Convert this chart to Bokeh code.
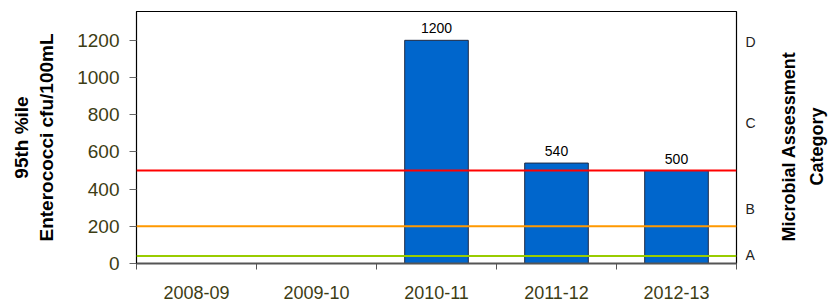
import math
from bokeh.plotting import figure
from bokeh.layouts import row
from bokeh.models import (ColumnDataSource, FixedTicker, LinearAxis, Range1d, Span)
from bokeh.core.properties import value
from bokeh.embed import file_html
from bokeh.resources import INLINE

# ---- data ----
categories = ["2008-09", "2009-10", "2010-11", "2011-12", "2012-13"]
enterococci_95th = [float("nan"), float("nan"), 1200, 540, 500]
bar_labels = ["", "", "1200", "540", "500"]
thresholds = [40, 200, 500]
threshold_colors = ["#99CC00", "#FF9900", "#FF0000"]
y_ticks = [0, 200, 400, 600, 800, 1000, 1200]
category_letters = ["A", "B", "C", "D"]
category_letter_pos = [45, 295, 755, 1190]
left_title = "95th %ile\nEnterococci cfu/100mL"
right_title = "Microbial Assessment\nCategory"

FONT = "Liberation Sans"
OLIVE = "#3d3d14"
Y_MAX = 1355

xs = [i + 0.5 for i in range(len(categories))]
src = ColumnDataSource(dict(x=xs, top=enterococci_95th, label=bar_labels))

p = figure(width=770, height=305, output_backend="svg", toolbar_location=None,
           x_range=Range1d(0, len(categories)), y_range=Range1d(0, Y_MAX),
           min_border_left=136, min_border_right=34, min_border_top=11,
           min_border_bottom=42)
p.xaxis.visible = False
p.yaxis.visible = False
p.grid.visible = False
p.outline_line_color = "black"
p.outline_line_width = 1.2

# bars
p.vbar(x="x", top="top", width=0.53, source=src, fill_color="#0066CC",
       line_color="#1f2a44", line_width=1)
p.text(x="x", y="top", text="label", source=src, text_align="center",
       text_baseline="alphabetic", y_offset=-12, text_font=value(FONT),
       text_font_size="14px", text_color="black")

# threshold lines
for t, c in zip(thresholds, threshold_colors):
    p.add_layout(Span(location=t, dimension="width", line_color=c, line_width=2))

# left axis
yl = LinearAxis(ticker=FixedTicker(ticks=y_ticks))
yl.axis_label = left_title
yl.axis_label_text_font = FONT
yl.axis_label_text_font_style = "bold"
yl.axis_label_text_font_size = "19px"
yl.axis_label_text_color = "black"
yl.axis_label_standoff = 17
yl.major_label_text_font = FONT
yl.major_label_text_font_size = "19px"
yl.major_label_text_color = OLIVE
yl.major_label_standoff = 10
yl.major_tick_out = 7
yl.major_tick_in = 0
yl.major_tick_line_color = "#666666"
yl.minor_tick_line_color = None
yl.axis_line_color = "black"
p.add_layout(yl, "left")

# bottom axis
xb = LinearAxis(ticker=FixedTicker(ticks=xs, minor_ticks=list(range(len(categories) + 1))))
xb.major_label_overrides = {x: c for x, c in zip(xs, categories)}
xb.major_label_text_font = FONT
xb.major_label_text_font_size = "18px"
xb.major_label_text_color = OLIVE
xb.major_label_standoff = 16
xb.major_tick_line_color = None
xb.major_tick_out = 0
xb.major_tick_in = 0
xb.minor_tick_line_color = "#555555"
xb.minor_tick_out = 6
xb.minor_tick_in = 0
xb.axis_line_color = "#555555"
xb.axis_line_width = 2
p.add_layout(xb, "below")

# right axis (categories)
yr = LinearAxis(ticker=FixedTicker(ticks=category_letter_pos))
yr.major_label_overrides = {v: l for v, l in zip(category_letter_pos, category_letters)}
yr.major_label_text_font = FONT
yr.major_label_text_font_size = "14px"
yr.major_label_text_color = "#222222"
yr.major_label_standoff = 9
yr.major_tick_line_color = None
yr.major_tick_out = 0
yr.major_tick_in = 0
yr.minor_tick_line_color = None
yr.axis_line_color = None
p.add_layout(yr, "right")

# right-hand title panel (reads bottom-to-top)
p2 = figure(width=64, height=305, output_backend="svg", toolbar_location=None,
            x_range=Range1d(0, 1), y_range=p.y_range,
            min_border_left=0, min_border_right=0, min_border_top=11,
            min_border_bottom=42)
p2.xaxis.visible = False
p2.yaxis.visible = False
p2.grid.visible = False
p2.outline_line_color = None
title_src = ColumnDataSource(dict(x=[0.5], y=[Y_MAX * 0.464], t=[right_title]))
p2.text(x="x", y="y", text="t", source=title_src, angle=math.pi / 2,
        text_align="center", text_baseline="middle", text_font=value(FONT),
        text_font_style="bold", text_font_size="18px", text_color="black",
        text_line_height=1.4)

open("out.html", "w").write(file_html(row(p, p2), INLINE))
